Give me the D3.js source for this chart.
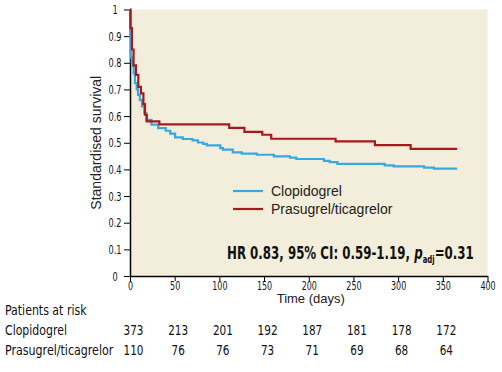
<!DOCTYPE html>
<html>
<head>
<meta charset="utf-8">
<script src="https://cdn.jsdelivr.net/npm/d3@7"></script>
<style>
  body { margin: 0; background: #fff; }
  svg { display: block; }
  .tick text { font-family: "DejaVu Sans Condensed", "DejaVu Sans", sans-serif; font-size: 12px; fill: #111; }
</style>
</head>
<body>
<script>
// survival steps: [day, survival] - value holds from that day on
const clopidogrel = [[0,1],[0.3,0.9],[0.7,0.82],[2,0.80],[3.3,0.787],[4.2,0.76],[5.5,0.724],[7.5,0.70],[9,0.68],[11,0.66],[13.5,0.636],[16,0.61],[18.5,0.586],[24,0.568],[31.5,0.555],[40,0.545],[45,0.534],[50.5,0.52],[59,0.514],[70,0.509],[76,0.501],[82,0.496],[86,0.49],[101,0.48],[104,0.474],[115,0.464],[125,0.459],[142,0.455],[161,0.449],[179,0.444],[186,0.439],[217,0.432],[223.5,0.427],[232,0.421],[285,0.415],[295,0.411],[329,0.407],[340,0.403],[366,0.403]];
const prasugrel = [[0,1],[0.5,0.93],[2.2,0.85],[4,0.79],[6.7,0.755],[9.3,0.71],[12.3,0.685],[15,0.645],[16.8,0.605],[18.7,0.58],[32.8,0.569],[111,0.556],[128,0.541],[148,0.530],[158,0.515],[230,0.505],[274,0.491],[314,0.477],[366,0.477]];

const seriesNames = ['Clopidogrel', 'Prasugrel/ticagrelor'];
const seriesColors = ['#36a9e1', '#a8191d'];

const xTicks = [0, 50, 100, 150, 200, 250, 300, 350, 400];
const yTicks = [0, 0.1, 0.2, 0.3, 0.4, 0.5, 0.6, 0.7, 0.8, 0.9, 1];

const riskDays = [0, 50, 100, 150, 200, 250, 300, 350];
const riskClopidogrel = [373, 213, 201, 192, 187, 181, 178, 172];
const riskPrasugrel = [110, 76, 76, 73, 71, 69, 68, 64];

const W = 502, H = 372;
const m = { left: 130, right: 14.5, top: 9.5, bottom: 96 };
const narrow = '"DejaVu Sans Condensed", "DejaVu Sans", sans-serif';
const plain = '"Liberation Sans", Arial, sans-serif';
const squeeze = 0.74;

const svg = d3.select('body').append('svg')
  .attr('width', W)
  .attr('height', H);

const x = d3.scaleLinear().domain([0, 400]).range([m.left, W - m.right]);
const y = d3.scaleLinear().domain([0, 1]).range([H - m.bottom, m.top]);

// plot background
svg.append('rect')
  .attr('x', x(0)).attr('y', y(1))
  .attr('width', x(400) - x(0)).attr('height', y(0) - y(1))
  .attr('fill', '#f3eedb');

// axes
const yAxis = svg.append('g')
  .attr('transform', 'translate(' + x(0) + ',0)')
  .call(d3.axisLeft(y).tickValues(yTicks).tickSize(6).tickSizeOuter(0).tickFormat(d => String(+d.toFixed(1))));
yAxis.selectAll('text')
  .style('font-size', '13px')
  .attr('text-anchor', 'middle')
  .attr('x', -15 / 0.7)
  .attr('transform', 'scale(0.7,1)');

const xAxis = svg.append('g')
  .attr('transform', 'translate(0,' + y(0) + ')')
  .call(d3.axisBottom(x).tickValues(xTicks).tickSize(5).tickSizeOuter(0));
xAxis.selectAll('text')
  .attr('y', 5)
  .attr('transform', 'scale(' + squeeze + ',1)');

svg.selectAll('.domain').attr('stroke', '#000').attr('stroke-width', 1.5);
svg.selectAll('.tick line').attr('stroke', '#000');

// curves
const line = d3.line()
  .x(d => x(d[0]))
  .y(d => y(d[1]))
  .curve(d3.curveStepAfter);

[clopidogrel, prasugrel].forEach((s, i) => {
  svg.append('path')
    .datum(s)
    .attr('fill', 'none')
    .attr('stroke', seriesColors[i])
    .attr('stroke-width', 2.2)
    .attr('d', line);
});

// axis titles
svg.append('text')
  .text('Standardised survival')
  .attr('transform', 'translate(101,' + y(0.5) + ') rotate(-90)')
  .attr('text-anchor', 'middle')
  .style('font-family', plain)
  .style('font-size', '14px')
  .attr('fill', '#222');

svg.append('text')
  .text('Time (days)')
  .attr('x', x(200) + 2)
  .attr('y', 303)
  .attr('text-anchor', 'middle')
  .style('font-family', plain)
  .style('font-size', '13px')
  .attr('fill', '#222');

// legend
const legend = svg.append('g').attr('transform', 'translate(233,191)');
seriesNames.forEach((name, i) => {
  legend.append('line')
    .attr('x1', 0).attr('x2', 30)
    .attr('y1', i * 18).attr('y2', i * 18)
    .attr('stroke', seriesColors[i])
    .attr('stroke-width', 2.2);
  legend.append('text')
    .text(name)
    .attr('x', 38)
    .attr('y', i * 18 + 5)
    .style('font-family', plain)
    .style('font-size', '14px')
    .attr('fill', '#222');
});

// hazard ratio, squeezed to the condensed width of the original
const hr = svg.append('text')
  .style('font-family', narrow)
  .style('font-size', '17px')
  .style('font-weight', 'bold')
  .attr('fill', '#111');
hr.append('tspan').text('HR 0.83, 95% CI: 0.59-1.19, ');
hr.append('tspan').text('p').style('font-style', 'italic');
hr.append('tspan').text('adj').attr('dy', 4).style('font-size', '10px');
hr.append('tspan').text('=0.31').attr('dy', -4);
const hrW = hr.node().getBBox().width;
hr.attr('transform', 'translate(227,259) scale(' + (247 / hrW) + ',1)');

// patients at risk table, labels squeezed to the narrow face of the original
function addLabel(txt, yPos, width) {
  const t = svg.append('text')
    .text(txt)
    .style('font-family', narrow).style('font-size', '14.5px').attr('fill', '#111');
  const w = t.node().getBBox().width;
  t.attr('transform', 'translate(5,' + yPos + ') scale(' + (width / w) + ',1)');
}
addLabel('Patients at risk', 315, 82);

[[seriesNames[0], riskClopidogrel, 335, 62], [seriesNames[1], riskPrasugrel, 355, 109]].forEach(row => {
  addLabel(row[0], row[2], row[3]);
  svg.selectAll(null)
    .data(row[1])
    .enter()
    .append('text')
    .text(d => d)
    .attr('transform', (d, i) => 'translate(' + (x(riskDays[i]) + 3.5) + ',' + row[2] + ') scale(0.8,1)')
    .attr('text-anchor', 'middle')
    .style('font-family', narrow).style('font-size', '14.5px').attr('fill', '#111');
});
</script>
</body>
</html>
